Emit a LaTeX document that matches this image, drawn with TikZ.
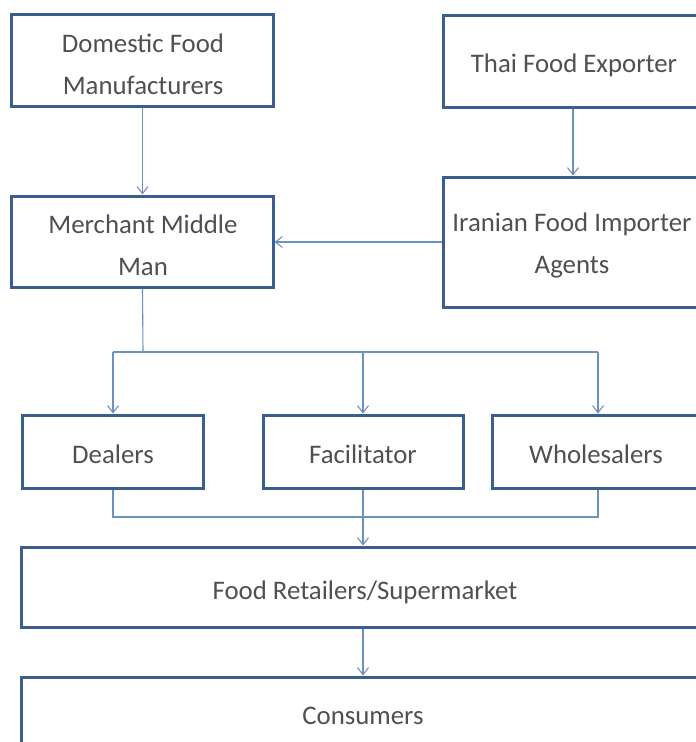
\documentclass[tikz,border=0pt]{standalone}
\usepackage{fontspec}
\setmainfont{Carlito}
\usetikzlibrary{arrows.meta}
\definecolor{boxblue}{RGB}{58,94,142}
\definecolor{linkblue}{RGB}{110,145,192}
\definecolor{txtgray}{RGB}{80,80,80}
\tikzset{
  box/.style={draw=boxblue, line width=3bp, fill=white, inner sep=0pt, outer sep=1.5bp, rectangle},
  lbl/.style={text=txtgray, font=\fontsize{26.8bp}{42.5bp}\selectfont, align=center, inner sep=0pt},
  conn/.style={draw=linkblue, line width=1.1bp},
  tip/.style={-{Straight Barb[length=7bp,width=11bp,line width=1.1bp]}}
}
\begin{document}
\begin{tikzpicture}[x=1bp,y=-1bp]
\useasboundingbox (0,0) rectangle (696,742);
\clip (0,0) rectangle (696,742);
% boxes
\node[box, minimum width=261bp, minimum height=91bp] (dom) at (142.5,60.5) {};
\node[box, minimum width=262bp, minimum height=91bp] (thai) at (574,61.5) {};
\node[box, minimum width=262bp, minimum height=130bp] (iran) at (574,242) {};
\node[box, minimum width=261bp, minimum height=91bp] (merch) at (142.5,241.5) {};
\node[box, minimum width=181bp, minimum height=73bp] (deal) at (113,451.5) {};
\node[box, minimum width=200bp, minimum height=73bp] (facil) at (363,451.5) {};
\node[box, minimum width=212bp, minimum height=73bp] (whole) at (598,451.5) {};
\node[box, minimum width=682bp, minimum height=80bp] (retail) at (363,587) {};
\node[box, minimum width=682bp, minimum height=80bp] (cons) at (363,717) {};
% labels
\node[lbl] (domT) at (143,64.5) {Domestic Food\\Manufacturers};
\node[lbl, anchor=base] (thaiT) at (574,73) {Thai Food Exporter};
\node[lbl] (iranT) at (572,245.5) {Iranian Food Importer\\Agents};
\node[lbl] (merchT) at (143,245.5) {Merchant Middle\\Man};
\node[lbl, anchor=base] (dealT) at (113,463.5) {Dealers};
\node[lbl, anchor=base] (facilT) at (363,463.5) {Facilitator};
\node[lbl, anchor=base] (wholeT) at (596,463.5) {Wholesalers};
\node[lbl, anchor=base] (retailT) at (365,599.5) {Food Retailers/Supermarket};
\node[lbl, anchor=base] (consT) at (363,724.5) {Consumers};
% connectors
\coordinate (split) at (143,352);
\coordinate (join) at (363,517);
\draw[conn,tip] (dom.south) -- (merch.north);
\draw[conn,tip] (thai.south -| 573,0) -- (iran.north -| 573,0);
\draw[conn,tip] (iran.west) -- (merch.east |- iran.west);
\draw[conn] (merch.south) -- (split);
\draw[conn] (deal.north |- split) -- (whole.north |- split);
\draw[conn,tip] (deal.north |- split) -- (deal.north);
\draw[conn,tip] (facil.north |- split) -- (facil.north);
\draw[conn,tip] (whole.north |- split) -- (whole.north);
\draw[conn] (deal.south) |- (join) -| (whole.south);
\draw[conn,tip] (facil.south) -- (retail.north);
\draw[conn,tip] (retail.south) -- (cons.north);
\end{tikzpicture}
\end{document}
